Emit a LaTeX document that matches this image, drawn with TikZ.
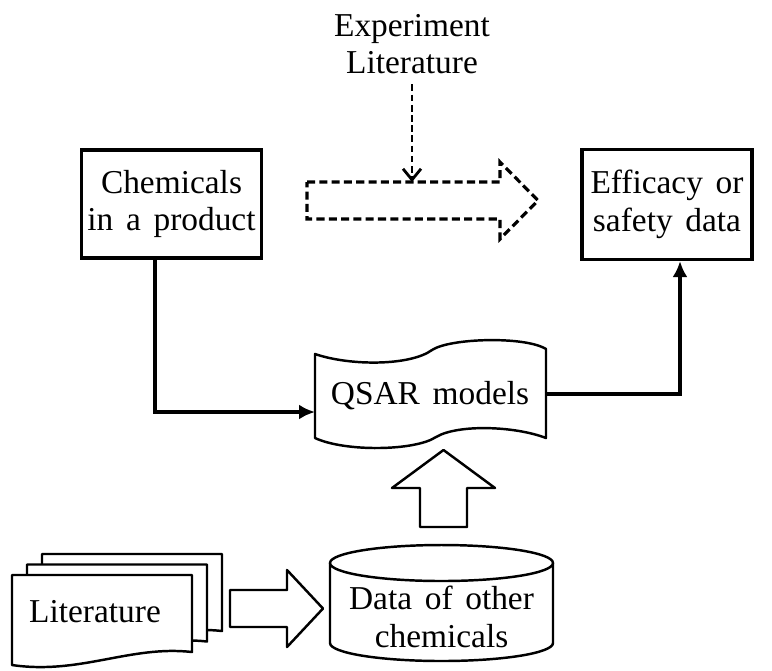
\documentclass[tikz,border=0pt]{standalone}
\usepackage{fontspec}
\setmainfont{Liberation Serif}
\usepackage{tikz}
\usetikzlibrary{arrows.meta, positioning}

\newcommand{\txt}{\fontsize{19}{21.5}\selectfont\spaceskip=0.38em plus 0.1em}

\begin{document}
\begin{tikzpicture}[x=0.2mm, y=-0.2mm,
			box/.style={draw, line width=1.8pt, align=center, font=\txt},
			label/.style={align=center, font=\txt, inner sep=0pt},
			outline/.style={draw, fill=white, line width=1.4pt, line join=round},
			conn/.style={line width=2.2pt, -{Latex[length=3.2mm, width=3mm]}},
			dashbox/.style={line width=1.8pt, dash pattern=on 4.6pt off 2.4pt},
			dasharrow/.style={line width=1.6pt, dash pattern=on 3.8pt off 2pt, -{Straight Barb[length=2.2mm, width=3.6mm]}}]
			\useasboundingbox (0,0) rectangle (772,670);

			% boxes
			\node[box, minimum width=32.6mm, minimum height=21.6mm] (chem) at (171.5,204) {Chemicals\\in a product};
			\node[box, minimum width=34mm, minimum height=22mm] (eff) at (667,204.5) {Efficacy or\\safety data};
			\node[label] (expt) at (412,44) {Experiment\\Literature};

			% dashed block arrow
			\draw[dashbox] (307,182) -- (500,182) -- (500,162) -- (538,200.5) -- (500,239) -- (500,219) -- (307,219) -- cycle;
			\coordinate (dtip) at (412,182);
			\draw[dasharrow] (expt.south) ++(0,10) -- (dtip);

			% QSAR models
			\draw[outline] (315,354) .. controls (350,366) and (410,366) .. (432,350)
				.. controls (450,338) and (525,336) .. (546,349) -- (546,438)
				.. controls (515,426) and (458,424) .. (436,437)
				.. controls (415,451) and (345,452) .. (315,438) -- cycle;
			\node[label] (qsar) at (430,396) {QSAR models};
			\coordinate (qin) at (315,412);
			\coordinate (qout) at (546,394);

			\draw[conn] ([xshift=-3.3mm]chem.south) |- (qin);
			\draw[line width=2.2pt] (qout) -| (680,300);
			\draw[conn] (680,300) -- ([xshift=2.6mm]eff.south);

			% up block arrow
			\draw[outline] (420,527) -- (420,488) -- (392,488) -- (443.5,450) -- (495,488) -- (467,488) -- (467,527) -- cycle;

			% database
			\draw[outline] (330,563) -- (330,643) arc[start angle=180, end angle=360, x radius=22.3mm, y radius=3.6mm] -- (553,563);
			\draw[outline] (441.5,563) ellipse [x radius=22.3mm, y radius=3.6mm];
			\node[label] (data) at (441.5,617) {Data of other\\chemicals};

			% literature stack
			\foreach \dx/\dy in {30/-21, 15/-10.5, 0/0}
				\draw[outline, shift={(\dx,\dy)}] (12,575) -- (192,575) -- (192,652)
					.. controls (130,645) and (80,675) .. (12,665) -- cycle;
			\node[label] (lit) at (95,612) {Literature};

			% right block arrow
			\draw[outline] (230,590) -- (287,590) -- (287,570) -- (323,608.5) -- (287,647) -- (287,627) -- (230,627) -- cycle;
		\end{tikzpicture}
\end{document}
